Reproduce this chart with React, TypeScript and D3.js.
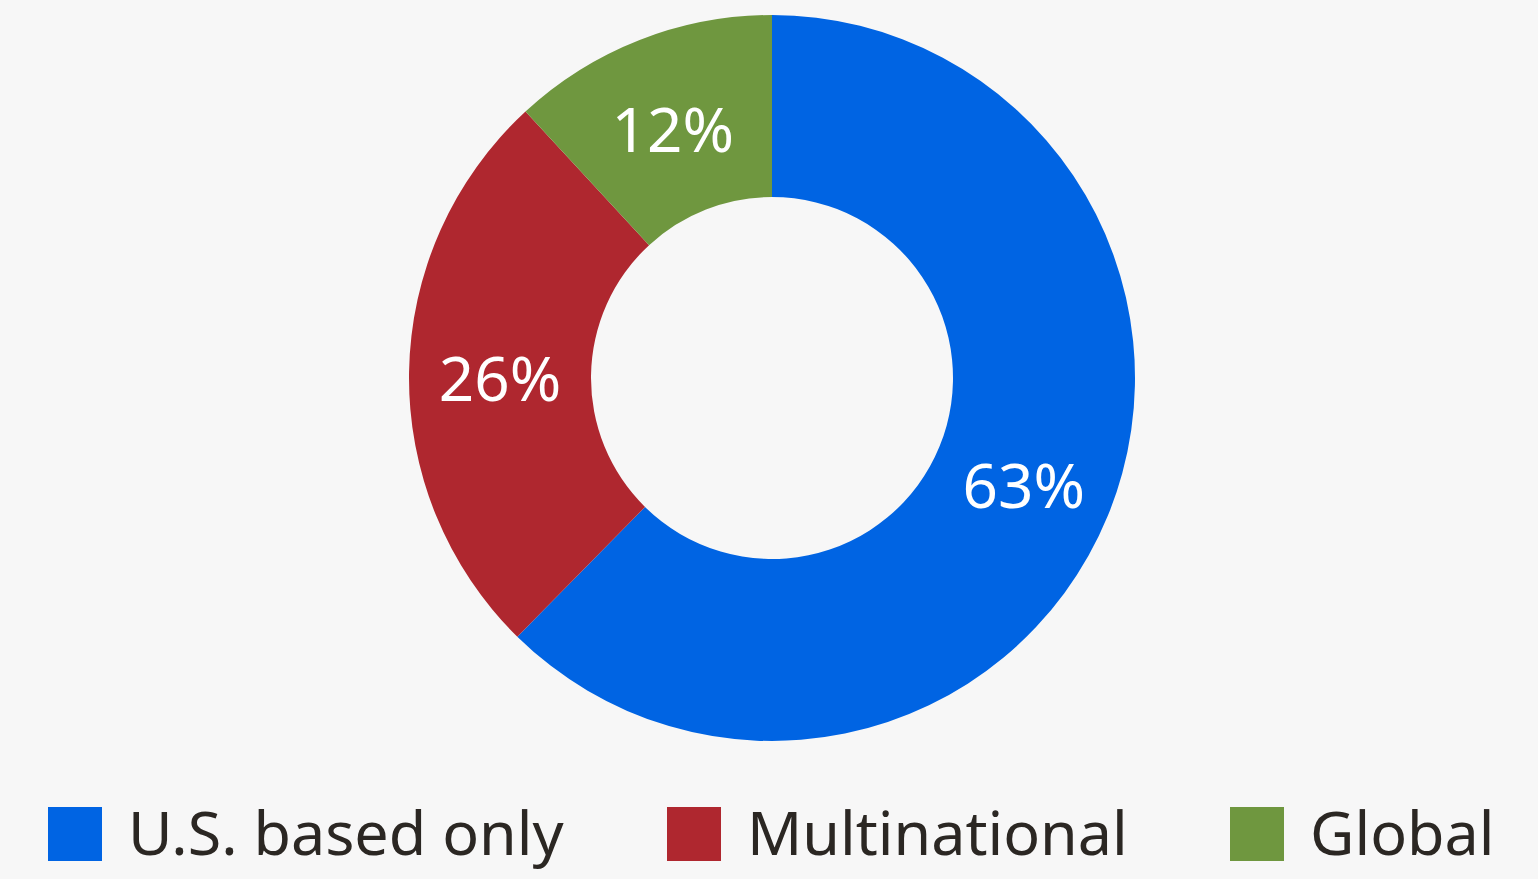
import React from "react";
import * as d3 from "d3";

const categories = ["U.S. based only", "Multinational", "Global"];
const values = [63, 26, 12];
const labels = ["63%", "26%", "12%"];
const colors = ["#0064e3", "#af272f", "#6f973f"];
const legendX = [48, 667, 1230];

const W = 1538;
const H = 879;
const cx = 772;
const cy = 378;
const outerR = 363;
const innerR = 181;

export default function App() {
  const pie = d3.pie<number>().sort(null).value((d) => d);
  const arcs = pie(values);
  const arc = d3.arc<d3.PieArcDatum<number>>().innerRadius(innerR).outerRadius(outerR);
  const font = "'Noto Sans', 'Open Sans', sans-serif";
  return (
    <svg width={W} height={H} style={{ position: "absolute", left: 0, top: 0, background: "#f7f7f7" }}>
      <rect x={0} y={0} width={W} height={H} fill="#f7f7f7" />
      <g transform={`translate(${cx},${cy})`}>
        {arcs.map((a, i) => (
          <path key={i} d={arc(a) || ""} fill={colors[i]} />
        ))}
        {arcs.map((a, i) => {
          const [x, y] = arc.centroid(a);
          return (
            <text
              key={"l" + i}
              x={x}
              y={y + 3}
              textAnchor="middle"
              dominantBaseline="central"
              fill="#ffffff"
              fontFamily={font}
              fontSize={62}
            >
              {labels[i]}
            </text>
          );
        })}
      </g>
      {categories.map((c, i) => (
        <g key={"g" + i}>
          <rect x={legendX[i]} y={807} width={54} height={54} fill={colors[i]} />
          <text x={legendX[i] + 80} y={855} fill="#2b2723" fontFamily={font} fontSize={61}>
            {c}
          </text>
        </g>
      ))}
    </svg>
  );
}
